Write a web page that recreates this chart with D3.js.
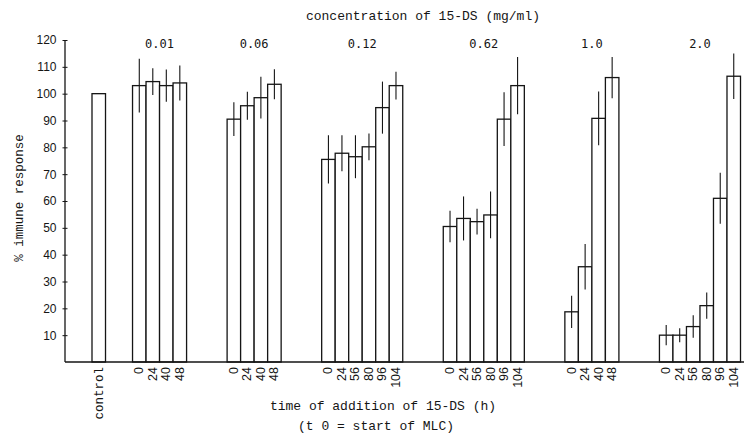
<!DOCTYPE html>
<html>
<head>
<meta charset="utf-8">
<script src="https://cdn.jsdelivr.net/npm/d3@7"></script>
<style>
  html, body { margin: 0; padding: 0; background: #fff; }
  svg { display: block; }
</style>
</head>
<body>
<div id="chart"></div>
<script>
// ── Data ─────────────────────────────────────────────────────────────────────
const concentrations = ['0.01', '0.06', '0.12', '0.62', '1.0', '2.0'];
const controlValue = 100;

const times01  = [0, 24, 40, 48];
const times012 = [0, 24, 56, 80, 96, 104];

const mean001 = [103, 104.5, 103, 104];
const err001  = [10, 5, 6, 6.5];
const mean006 = [90.5, 95.5, 98.5, 103.5];
const err006  = [6.3, 5.2, 7.8, 5.6];
const mean012 = [75.5, 77.8, 76.5, 80.2, 94.8, 103];
const err012  = [9, 6.7, 8, 5, 9.7, 5.2];
const mean062 = [50.5, 53.5, 52.3, 54.8, 90.5, 103];
const err062  = [5.9, 8.2, 4.8, 8.7, 10, 10.7];
const mean10  = [18.7, 35.5, 90.8, 106];
const err10   = [6, 8.5, 10, 7.7];
const mean20  = [10, 10, 13.2, 21, 61, 106.5];
const err20   = [3.8, 2.6, 4.2, 4.9, 9.5, 8.5];

const yTicks = [10, 20, 30, 40, 50, 60, 70, 80, 90, 100, 110, 120];

const groupTimes  = [times01, times01, times012, times012, times01, times012];
const groupMeans  = [mean001, mean006, mean012, mean062, mean10, mean20];
const groupErrors = [err001, err006, err012, err062, err10, err20];

// ── Layout ───────────────────────────────────────────────────────────────────
const W = 744, H = 435;
const baseY = 362;
const axisX = 65;
const ink = '#151515';
const mono = '"Liberation Mono", "DejaVu Sans Mono", monospace';
const sans = '"Liberation Sans", Arial, sans-serif';

// Bars sit in equal slots: control, gap of 2, then groups separated by 3 slots
const bars = [];
let slot = 0;
bars.push({ slot: slot, value: controlValue, err: 0, label: 'control', group: -1 });
slot += 3;
const groupCenters = [];
concentrations.forEach((c, gi) => {
  const start = slot;
  groupTimes[gi].forEach((t, i) => {
    bars.push({ slot: slot, value: groupMeans[gi][i], err: groupErrors[gi][i], label: String(t), group: gi });
    slot += 1;
  });
  groupCenters.push((start + slot) / 2);
  slot += 3;
});
const nSlots = slot - 3;

const x = d3.scaleLinear().domain([0, nSlots]).range([92, 740.5]);
const y = d3.scaleLinear().domain([0, 120]).range([baseY, 40]);
const bw = x(1) - x(0);

const svg = d3.select('#chart').append('svg')
  .attr('width', W)
  .attr('height', H);

// ── Bars ─────────────────────────────────────────────────────────────────────
svg.append('g')
  .selectAll('rect')
  .data(bars)
  .join('rect')
  .attr('x', d => x(d.slot))
  .attr('y', d => y(d.value))
  .attr('width', bw)
  .attr('height', d => baseY - y(d.value))
  .attr('fill', '#fff')
  .attr('stroke', ink)
  .attr('stroke-width', 1.3);

// Error bars
svg.append('g')
  .selectAll('line')
  .data(bars.filter(d => d.err > 0))
  .join('line')
  .attr('x1', d => x(d.slot + 0.5))
  .attr('x2', d => x(d.slot + 0.5))
  .attr('y1', d => y(d.value - d.err))
  .attr('y2', d => y(d.value + d.err))
  .attr('stroke', ink)
  .attr('stroke-width', 1.1);

// ── Axes ─────────────────────────────────────────────────────────────────────
// Baseline across the whole figure
svg.append('line')
  .attr('x1', axisX).attr('x2', W)
  .attr('y1', baseY).attr('y2', baseY)
  .attr('stroke', ink).attr('stroke-width', 1.3);

const yAxis = svg.append('g')
  .attr('transform', `translate(${axisX},0)`)
  .call(d3.axisLeft(y).tickValues(yTicks).tickSize(2.5).tickPadding(6))
  .call(ax => ax.select('.domain').remove())
  .call(ax => ax.selectAll('.tick line').attr('x2', 2.5).attr('x1', -2.5).attr('stroke', ink))
  .call(ax => ax.selectAll('text')
    .attr('fill', ink)
    .style('font-family', sans)
    .style('font-size', '12px'));

yAxis.append('line')
  .attr('x1', 0).attr('x2', 0)
  .attr('y1', y(120)).attr('y2', baseY)
  .attr('stroke', ink).attr('stroke-width', 1.3);

// X tick labels (rotated)
svg.append('g')
  .selectAll('text')
  .data(bars)
  .join('text')
  .attr('transform', d => `translate(${x(d.slot + 0.5) + 4},${baseY + 5}) rotate(-90)`)
  .attr('text-anchor', 'end')
  .attr('fill', ink)
  .style('font-family', d => d.group < 0 ? mono : sans)
  .style('font-size', '12.5px')
  .text(d => d.label);

// Concentration labels above the groups
svg.append('g')
  .selectAll('text')
  .data(concentrations)
  .join('text')
  .attr('x', (d, i) => x(groupCenters[i]))
  .attr('y', 48)
  .attr('text-anchor', 'middle')
  .attr('fill', ink)
  .style('font-family', '"DejaVu Sans Mono", monospace')
  .style('font-size', '12px')
  .text(d => d);

// ── Titles ───────────────────────────────────────────────────────────────────
svg.append('text')
  .attr('x', 423).attr('y', 20)
  .attr('text-anchor', 'middle')
  .attr('fill', ink)
  .style('font-family', mono)
  .style('font-size', '13px')
  .text('concentration of 15-DS (mg/ml)');

svg.append('text')
  .attr('transform', 'translate(23,198) rotate(-90)')
  .attr('text-anchor', 'middle')
  .attr('fill', ink)
  .style('font-family', mono)
  .style('font-size', '12.5px')
  .text('% immune response');

svg.append('text')
  .attr('x', 383).attr('y', 410)
  .attr('text-anchor', 'middle')
  .attr('fill', ink)
  .style('font-family', mono)
  .style('font-size', '13px')
  .text('time of addition of 15-DS (h)');

svg.append('text')
  .attr('x', 376).attr('y', 430)
  .attr('text-anchor', 'middle')
  .attr('fill', ink)
  .style('font-family', mono)
  .style('font-size', '13px')
  .text('(t 0 = start of MLC)');
</script>
</body>
</html>
